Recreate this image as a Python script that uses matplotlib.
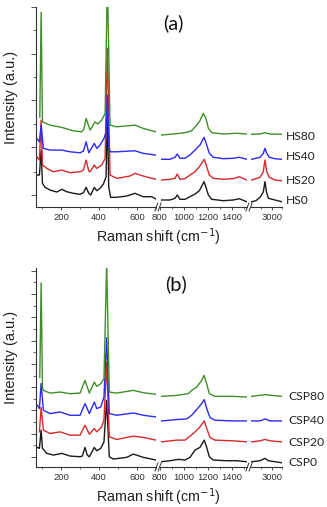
import numpy as np
import matplotlib
matplotlib.use("Agg")
import matplotlib.pyplot as plt
from matplotlib.lines import Line2D

# ---------------- data (wavenumber, intensity a.u.) ----------------
hs0_x = [72, 86, 95, 102, 116, 142, 177, 204, 230, 265, 300, 318, 332, 346, 356, 375, 388, 405, 423, 437, 444, 451, 461, 493, 546, 589, 633, 677, 700,
         814, 883, 925, 944, 967, 1008, 1050, 1092, 1128, 1167, 1183, 1203, 1231, 1328, 1411, 1461, 1522,
         2806, 2848, 2887, 2919, 2935, 2950, 2968, 3032, 3097]
hs0_y = [32, 32, 57, 23.7, 19.7, 17, 15, 17.7, 15.3, 13.7, 12.7, 14.3, 19.7, 13.7, 12, 19.7, 16.3, 18.7, 23, 30.3, 97, 20.3, 9.7, 9.7, 11, 13.7, 10.3, 10.3, 8,
         7, 7, 8.7, 12, 7.7, 7.7, 10.3, 13, 16.3, 25.3, 19.7, 12, 7.7, 6.3, 7, 8.3, 5.3,
         5.3, 6.3, 9.7, 15, 25.3, 15, 8.7, 7, 5.3]

hs20_x = [72, 86, 95, 102, 125, 160, 204, 247, 300, 318, 332, 346, 353, 375, 388, 414, 432, 444, 458, 493, 563, 589, 633, 700,
          814, 883, 925, 944, 967, 1008, 1050, 1092, 1128, 1169, 1189, 1211, 1244, 1328, 1411, 1461, 1522,
          2806, 2887, 2919, 2935, 2952, 2977, 3032, 3097]
hs20_y = [50.3, 47, 87, 42, 38.7, 35.3, 37, 34.3, 35.3, 37, 47, 36, 35.3, 42, 38.7, 42, 48.7, 159, 32, 28.7, 31, 33.7, 31, 27.7,
          27, 27.7, 28.7, 33, 27.7, 28.3, 32, 35.3, 40.3, 47.7, 40.3, 32, 28.7, 27.7, 28.3, 30.3, 27,
          27, 29.7, 35.3, 47, 35.3, 29.7, 27, 26.3]

hs40_x = [72, 86, 95, 107, 142, 204, 247, 300, 318, 332, 346, 375, 388, 405, 426, 437, 444, 451, 458, 493, 589, 633, 700,
          814, 883, 925, 944, 967, 1008, 1050, 1092, 1133, 1167, 1189, 1211, 1244, 1328, 1411, 1461, 1522,
          2806, 2887, 2919, 2935, 2952, 2977, 3032, 3097]
hs40_y = [68.7, 65.3, 82, 58.7, 57, 57, 55.3, 54.3, 56, 65.3, 54.3, 63.7, 58.7, 62, 68.7, 75, 112, 60, 55.3, 55.3, 56.3, 53.7, 52,
          47.7, 47.7, 49.7, 53, 48.7, 48.7, 52, 57, 62, 69.7, 62, 53.7, 49.7, 48.3, 48.7, 49.7, 47.7,
          47.7, 49.7, 53.7, 58.7, 53.7, 49.7, 48.3, 47.7]

hs80_x = [88, 95, 102, 142, 204, 265, 309, 320, 332, 353, 379, 393, 414, 432, 444, 458, 493, 589, 633, 700,
          814, 883, 967, 1022, 1064, 1106, 1133, 1161, 1183, 1203, 1231, 1328, 1439, 1522,
          2806, 2887, 2935, 2984, 3097]
hs80_y = [90, 195, 85.3, 82, 79.7, 76.3, 75.3, 78, 88.7, 77, 85.3, 83, 87, 93.7, 230, 82, 80.3, 82, 78.7, 75.3,
          72, 72.7, 73.7, 74.7, 76.3, 82, 86.3, 93.7, 88.7, 78.7, 74.3, 73, 73.7, 73,
          72.7, 73, 74.3, 73, 72.7]

csp0_x = [72, 86, 95, 102, 125, 160, 204, 247, 300, 312, 326, 338, 349, 375, 388, 409, 426, 440, 454, 475, 546, 581, 633, 700,
          814, 883, 953, 1008, 1050, 1092, 1133, 1169, 1189, 1211, 1244, 1356, 1439, 1522,
          2806, 2887, 2935, 2968, 3032, 3097]
csp0_y = [20, 18.7, 37, 18.7, 13.7, 12, 13.7, 11, 10.3, 11, 19.7, 12, 10.3, 19.7, 16.3, 18.7, 25.3, 67, 10.3, 8, 9.7, 13, 9.7, 7,
          5.3, 6.3, 7.7, 7, 9.7, 17, 19.7, 27, 19.7, 10.3, 7, 6.3, 6.3, 5.3,
          5.3, 6.3, 8.7, 6.3, 5.3, 4.3]

csp20_x = [86, 95, 107, 142, 195, 247, 300, 326, 349, 375, 388, 414, 426, 440, 454, 493, 581, 633, 700,
           814, 939, 1008, 1050, 1092, 1133, 1169, 1189, 1217, 1258, 1411, 1522,
           2806, 2887, 2935, 2984, 3097]
csp20_y = [35.3, 60, 37, 33.7, 35.3, 32, 32, 42, 33, 38.7, 35.3, 40.3, 47, 105, 30.3, 27.7, 31, 29.7, 27,
           25.3, 27, 27, 31, 35.3, 40.3, 46.3, 38.7, 29.7, 27, 26.3, 25.3,
           25.3, 26.3, 27.7, 26.3, 25.3]

csp40_x = [76, 86, 95, 107, 142, 195, 247, 300, 326, 349, 375, 388, 409, 426, 440, 454, 493, 581, 633, 700,
           814, 939, 1022, 1064, 1106, 1147, 1169, 1189, 1217, 1258, 1411, 1522,
           2806, 2887, 2935, 2984, 3097]
csp40_y = [62, 58.7, 84, 57, 53.7, 55.3, 52, 52, 63.7, 53.7, 65.3, 58.7, 60.3, 70.3, 130, 53.7, 52, 54.3, 52, 50.3,
           46.3, 47.7, 48.3, 52, 57.7, 63.7, 67.7, 58.7, 49.7, 47, 46.3, 46.3,
           46.3, 46.3, 48.3, 46.3, 46.3]

csp80_x = [88, 95, 102, 107, 142, 195, 247, 300, 326, 349, 375, 388, 409, 426, 440, 454, 493, 581, 633, 700,
           814, 939, 1036, 1064, 1106, 1147, 1167, 1189, 1211, 1258, 1411, 1522,
           2806, 2935, 3097]
csp80_y = [90, 185, 80.3, 77, 74.3, 75.3, 73.7, 74.3, 87, 74.3, 85.3, 81, 83.7, 88.7, 205, 75.3, 74.3, 77, 74.7, 73,
           71, 72, 73.7, 77, 80.3, 87, 92, 83.7, 73.7, 71, 71, 70.3,
           71, 72.7, 71]

labels_a = ["HS0", "HS20", "HS40", "HS80"]
labels_b = ["CSP0", "CSP20", "CSP40", "CSP80"]
tick_labels = [["200", "400", "600"], ["800", "1000", "1200", "1400"], ["3000"]]

# ---------------- layout / style ----------------
W, H = 327, 507
fig = plt.figure(figsize=(W / 100, H / 100), dpi=100)

colors = ["#1a1a1a", "#d42a2a", "#2a2af0", "#3f8f2a"]
seg_lims = [(68, 700), (800, 1525), (2800, 3100)]
seg_px = [(36, 156), (160, 247), (251, 282)]
seg_major = [[200, 400, 600], [800, 1000, 1200, 1400], [3000]]
seg_minor = [[100, 300, 500, 700], [900, 1100, 1300, 1500], [2900, 3100]]

label_font = ["Lato", "DejaVu Sans"]
axis_font = ["Liberation Sans", "DejaVu Sans"]


def px2fig(x, y):
    return x / W, 1 - y / H


panels = [
    dict(top=7, bottom=207,
         series=[(hs0_x, hs0_y), (hs20_x, hs20_y), (hs40_x, hs40_y), (hs80_x, hs80_y)],
         labels=labels_a, label_x=286, label_y=[201, 180, 157, 136],
         title="(a)", title_xy=(173, 23),
         yticks_major=[12, 59.7, 107, 153.7, 200.3], yticks_minor=[35.4, 83.4, 130.4, 177]),
    dict(top=268, bottom=467,
         series=[(csp0_x, csp0_y), (csp20_x, csp20_y), (csp40_x, csp40_y), (csp80_x, csp80_y)],
         labels=labels_b, label_x=288, label_y=[463, 442, 420, 397],
         title="(b)", title_xy=(176, 284),
         yticks_major=[10 + 23.4 * k for k in range(9)],
         yticks_minor=[21.7 + 23.4 * k for k in range(8)]),
]

for p in panels:
    for si, ((lo, hi), (x0, x1)) in enumerate(zip(seg_lims, seg_px)):
        l, b = px2fig(x0, p["bottom"])
        ax = fig.add_axes([l, b, (x1 - x0) / W, (p["bottom"] - p["top"]) / H])
        ax.set_xlim(lo, hi)
        ax.set_ylim(0, 200)
        for (xs, ys), c in zip(p["series"], colors):
            xs = np.asarray(xs, float)
            ys = np.asarray(ys, float)
            m = (xs >= lo) & (xs <= hi)
            ax.plot(xs[m], ys[m], color=c, lw=1.0, solid_joinstyle="round")
        for s in ["top", "right"]:
            ax.spines[s].set_visible(False)
        ax.spines["bottom"].set_linewidth(0.8)
        ax.spines["bottom"].set_color("#333333")
        ax.set_xticks(seg_major[si])
        ax.set_xticklabels(tick_labels[si], fontsize=6.8, family=axis_font, color="#333333")
        ax.set_xticks(seg_minor[si], minor=True)
        ax.tick_params(axis="x", which="major", length=2.5, width=0.6, pad=1.5, colors="#333333")
        ax.tick_params(axis="x", which="minor", length=1.5, width=0.5, colors="#333333")
        if si == 0:
            ax.spines["left"].set_linewidth(0.8)
            ax.spines["left"].set_color("#333333")
            ax.set_yticks(p["yticks_major"])
            ax.set_yticks(p["yticks_minor"], minor=True)
            ax.set_yticklabels([])
            ax.tick_params(axis="y", which="major", length=3.5, width=0.6, colors="#333333")
            ax.tick_params(axis="y", which="minor", length=2.2, width=0.5, colors="#333333")
        else:
            ax.spines["left"].set_visible(False)
            ax.set_yticks([])
        ax.patch.set_alpha(0)

    # break marks
    for bx in [158, 249]:
        for dx in [-1.6, 1.6]:
            xa, ya = px2fig(bx + dx - 1.5, p["bottom"] + 4)
            xb, yb = px2fig(bx + dx + 1.5, p["bottom"] - 4)
            fig.add_artist(Line2D([xa, xb], [ya, yb], color="#333333", lw=0.7))

    # series labels
    for txt, ly in zip(p["labels"], p["label_y"]):
        fx, fy = px2fig(p["label_x"], ly)
        fig.text(fx, fy, txt, fontsize=8.7, family=label_font, color="#222222",
                 ha="left", va="center")

    # panel title
    fx, fy = px2fig(*p["title_xy"])
    fig.text(fx, fy, p["title"], fontsize=14.5, family=label_font, color="#111111",
             ha="center", va="center")

    # axis labels
    fx, fy = px2fig(158, p["bottom"] + 30)
    fig.text(fx, fy, "Raman shift (cm$^{-1}$)", fontsize=10.3, family=axis_font,
             color="#222222", ha="center", va="center")
    fx, fy = px2fig(11, (p["top"] + p["bottom"]) / 2 - 10)
    fig.text(fx, fy, "Intensity (a.u.)", fontsize=10.5, family=axis_font,
             color="#222222", ha="center", va="center", rotation=90)

fig.savefig("out.png", dpi=100)
